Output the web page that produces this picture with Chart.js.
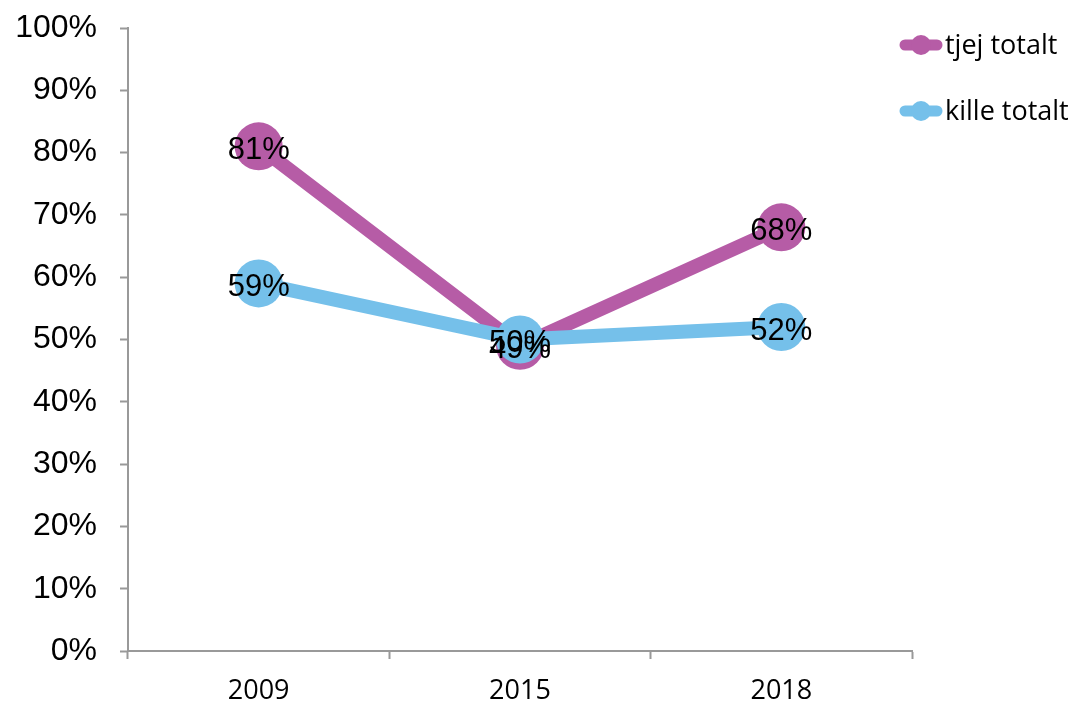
<!DOCTYPE html>
<html>
<head>
<meta charset="utf-8">
<script src="https://cdn.jsdelivr.net/npm/chart.js@4"></script>
<style>
  html, body { margin: 0; padding: 0; background: #fff; }
  #wrap { width: 1076px; height: 706px; }
</style>
</head>
<body>
<div id="wrap"><canvas id="lineChart" width="1076" height="706"></canvas></div>
<script>
// Data
const years = ["2009", "2015", "2018"];
const tjej = [81, 49, 68];
const kille = [59, 50, 52];
const seriesNames = ["tjej totalt", "kille totalt"];
const seriesColors = ["#B65CA6", "#75C0EA"];

// Value labels centred on each point
const pointLabels = {
  id: "pointLabels",
  afterDatasetsDraw(chart) {
    const ctx = chart.ctx;
    ctx.save();
    ctx.font = "31px 'Liberation Sans', Arial, sans-serif";
    ctx.fillStyle = "#000";
    ctx.textAlign = "center";
    ctx.textBaseline = "middle";
    chart.data.datasets.forEach((ds, i) => {
      chart.getDatasetMeta(i).data.forEach((pt, j) => {
        ctx.fillText(ds.data[j] + "%", pt.x, pt.y + 4);
      });
    });
    ctx.restore();
  }
};

// Legend on the right: line with a dot, then the name
const sideLegend = {
  id: "sideLegend",
  afterDraw(chart) {
    const ctx = chart.ctx;
    const rows = [45, 111];
    ctx.save();
    seriesNames.forEach((name, i) => {
      const y = rows[i];
      ctx.strokeStyle = seriesColors[i];
      ctx.fillStyle = seriesColors[i];
      ctx.lineWidth = 11;
      ctx.lineCap = "round";
      ctx.beginPath();
      ctx.moveTo(905, y);
      ctx.lineTo(937, y);
      ctx.stroke();
      ctx.beginPath();
      ctx.arc(921, y, 10, 0, Math.PI * 2);
      ctx.fill();
      ctx.fillStyle = "#000";
      ctx.font = "27px 'Open Sans', 'Noto Sans', sans-serif";
      ctx.textAlign = "left";
      ctx.textBaseline = "middle";
      ctx.fillText(name, 945, y + 1);
    });
    ctx.restore();
  }
};

const ctx = document.getElementById("lineChart").getContext("2d");
const myChart = new Chart(ctx, {
  type: "line",
  data: {
    labels: years,
    datasets: [
      {
        label: seriesNames[0],
        data: tjej,
        borderColor: seriesColors[0],
        backgroundColor: seriesColors[0],
        borderWidth: 14,
        pointRadius: 24,
        pointHoverRadius: 24,
        pointBorderWidth: 0,
        fill: false,
        tension: 0,
        order: 2,
      },
      {
        label: seriesNames[1],
        data: kille,
        borderColor: seriesColors[1],
        backgroundColor: seriesColors[1],
        borderWidth: 14,
        pointRadius: 24,
        pointHoverRadius: 24,
        pointBorderWidth: 0,
        fill: false,
        tension: 0,
        order: 1,
      },
    ],
  },
  options: {
    responsive: false,
    animation: false,
    layout: { padding: { top: 28, right: 164, left: 0, bottom: 0 } },
    scales: {
      x: {
        offset: true,
        grid: {
          offset: true,
          drawOnChartArea: false,
          color: "#999",
          tickLength: 8,
          tickWidth: 2,
        },
        border: { color: "#999", width: 2 },
        ticks: {
          color: "#000",
          padding: 16,
          font: { family: "'Open Sans', 'Noto Sans', sans-serif", size: 27 },
        },
        afterFit(scale) { scale.height = 55; },
      },
      y: {
        min: 0,
        max: 100,
        grid: {
          drawOnChartArea: false,
          color: "#999",
          tickLength: 8,
          tickWidth: 2,
        },
        border: { color: "#999", width: 2 },
        ticks: {
          stepSize: 10,
          color: "#000",
          padding: 23,
          font: { family: "'Liberation Sans', Arial, sans-serif", size: 32 },
          callback: function (value) {
            return value + "%";
          },
        },
        afterFit(scale) {
          scale.width = 128;
          scale.paddingTop = 0;
          scale.paddingBottom = 0;
        },
      },
    },
    plugins: {
      legend: { display: false },
      tooltip: { enabled: false },
    },
  },
  plugins: [pointLabels, sideLegend],
});
</script>
</body>
</html>
